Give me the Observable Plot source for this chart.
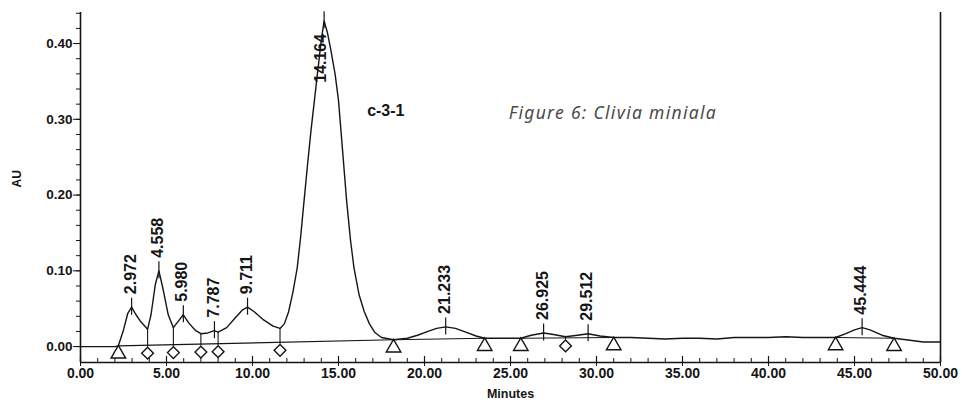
<!DOCTYPE html>
<html><head><meta charset="utf-8">
<script src="https://cdn.jsdelivr.net/npm/d3@7"></script>
<script src="https://cdn.jsdelivr.net/npm/@observablehq/plot@0.6"></script>
<style>
html,body{margin:0;padding:0;background:#fff;}
#chart{width:962px;height:404px;}
</style></head><body><div id="chart"></div>
<script>
// Chromatogram trace (minutes, AU)
const traceTime = [0,1,2,2.2,2.5,2.75,2.972,3.2,3.5,3.9,4.1,4.35,4.558,4.8,5.1,5.4,5.7,5.98,6.3,6.7,7.0,7.4,7.787,8.0,8.5,9.0,9.4,9.711,10.1,10.6,11.2,11.6,11.85,12.1,12.35,12.6,12.8,13.0,13.2,13.4,13.6,13.8,14.0,14.164,14.35,14.55,14.8,15.0,15.25,15.47,15.7,15.9,16.2,16.5,16.8,17.1,17.5,18.2,19.0,19.6,20.2,20.7,21.233,21.8,22.4,23.0,23.5,24.5,25.6,26.2,26.925,27.5,28.2,28.9,29.512,30.2,31.0,32,33,34,35,36,37,38,39,40,41,42,43,43.9,44.5,45.0,45.444,45.9,46.6,47.3,48,49,50];
const traceAU = [0.000,0.000,0.000,0.001,0.022,0.044,0.052,0.043,0.033,0.023,0.042,0.082,0.100,0.076,0.042,0.025,0.034,0.042,0.031,0.021,0.017,0.018,0.021,0.019,0.025,0.038,0.048,0.052,0.046,0.036,0.027,0.024,0.030,0.046,0.072,0.104,0.145,0.193,0.240,0.285,0.325,0.365,0.405,0.430,0.415,0.392,0.360,0.325,0.255,0.193,0.140,0.104,0.068,0.046,0.030,0.019,0.012,0.009,0.011,0.015,0.020,0.024,0.026,0.024,0.019,0.014,0.011,0.011,0.011,0.015,0.018,0.016,0.013,0.015,0.017,0.014,0.012,0.012,0.011,0.010,0.011,0.011,0.010,0.012,0.012,0.012,0.013,0.012,0.012,0.012,0.017,0.022,0.025,0.022,0.015,0.011,0.009,0.006,0.006];

// Peak retention times and labels
const peakTimes = [2.972,4.558,5.980,7.787,9.711,14.164,21.233,26.925,29.512,45.444];
const peakLabels = ["2.972","4.558","5.980","7.787","9.711","14.164","21.233","26.925","29.512","45.444"];

// Integration events
const baselineStarts = [2.2,18.2,25.6,43.9];
const baselineEnds = [18.2,23.5,31.0,47.3];
const triangleTimes = [2.2,18.2,23.5,25.6,31.0,43.9,47.3];
const diamondTimes = [3.9,5.4,7.0,8.0,11.6,28.2];

// Axes
const xTicks = [0,5,10,15,20,25,30,35,40,45,50];
const xTickLabels = ["0.00","5.00","10.00","15.00","20.00","25.00","30.00","35.00","40.00","45.00","50.00"];
const xMinor = d3.range(0,51,1);
const yTicks = [0,0.1,0.2,0.3,0.4];
const yTickLabels = ["0.00","0.10","0.20","0.30","0.40"];
const yMinor = [0,0.02,0.04,0.06,0.08,0.1,0.12,0.14,0.16,0.18,0.2,0.22,0.24,0.26,0.28,0.3,0.32,0.34,0.36,0.38,0.4,0.42,0.44];
const xLabel = "Minutes";
const yLabel = "AU";
const sampleName = "c-3-1";
const figureTitle = "Figure 6: Clivia miniala";

const W = 962, H = 404, mL = 80, mR = 22, mT = 12, mB = 42;
const yDom = [-0.021, 0.441];
const pxPerAU = (H - mT - mB) / (yDom[1] - yDom[0]);

function auAt(t) {
  const i = d3.bisectLeft(traceTime, t);
  if (i <= 0) return traceAU[0];
  if (i >= traceTime.length) return traceAU[traceAU.length - 1];
  const t0 = traceTime[i-1], t1 = traceTime[i];
  if (t1 === t) return traceAU[i];
  return traceAU[i-1] + (traceAU[i] - traceAU[i-1]) * (t - t0) / (t1 - t0);
}
function baseAt(t) {
  for (let k = 0; k < baselineStarts.length; k++) {
    const s = baselineStarts[k], e = baselineEnds[k];
    if (t >= s - 1e-9 && t <= e + 1e-9) {
      const vs = auAt(s), ve = auAt(e);
      return vs + (ve - vs) * (t - s) / (e - s);
    }
  }
  return auAt(t);
}

const ink = "#151515";
const traceIdx = d3.range(traceTime.length);
const peakIdx = d3.range(peakTimes.length);
const outsidePeaks = peakIdx.filter(i => auAt(peakTimes[i]) < 0.3);
const insidePeaks = peakIdx.filter(i => auAt(peakTimes[i]) >= 0.3);

const chart = Plot.plot({
  width: W, height: H,
  marginLeft: mL, marginRight: mR, marginTop: mT, marginBottom: mB,
  x: {domain: [0, 50], label: null},
  y: {domain: yDom, label: null},
  style: {fontFamily: "'Liberation Sans', Arial, sans-serif", fontSize: "14px", fontWeight: "bold", color: ink, background: "#fff"},
  marks: [
    // frame lines
    Plot.ruleY([yDom[0]], {stroke: ink, strokeWidth: 1.6}),
    Plot.ruleX([0], {stroke: ink, strokeWidth: 1.6}),
    Plot.ruleX([50], {stroke: ink, strokeWidth: 1.6}),
    // axes
    Plot.axisY(yTicks, {anchor: "left", tickSize: 7, tickPadding: 1, tickFormat: d => yTickLabels[yTicks.indexOf(d)], fontSize: 13.5, stroke: ink, fill: ink}),
    Plot.axisY(yMinor, {anchor: "left", tickSize: 4, tickFormat: () => "", stroke: ink}),
    Plot.axisX(xTicks, {anchor: "bottom", tickSize: 4, tickPadding: 2, tickFormat: d => xTickLabels[xTicks.indexOf(d)], fontSize: 14, stroke: ink, fill: ink}),
    Plot.ruleX(xMinor, {x: d => d, y1: yDom[0], y2: yDom[0] + 4 / pxPerAU, stroke: ink, strokeWidth: 1}),
    Plot.ruleX(xTicks, {x: d => d, y1: yDom[0], y2: yDom[0] + 6 / pxPerAU, stroke: ink, strokeWidth: 1.2}),
    // integration baselines
    Plot.link(d3.range(baselineStarts.length), {
      x1: i => baselineStarts[i], y1: i => auAt(baselineStarts[i]),
      x2: i => baselineEnds[i], y2: i => auAt(baselineEnds[i]),
      stroke: ink, strokeWidth: 1.2
    }),
    // drop lines
    Plot.ruleX(diamondTimes, {x: t => t, y1: t => auAt(t), y2: t => baseAt(t) - 2 / pxPerAU, stroke: ink, strokeWidth: 1.1}),
    // trace
    Plot.line(traceIdx, {x: i => traceTime[i], y: i => traceAU[i], stroke: ink, strokeWidth: 1.4}),
    // markers
    Plot.dot(triangleTimes, {x: t => t, y: t => baseAt(t), symbol: "triangle", r: 5.4, dy: 8, stroke: ink, strokeWidth: 1.4, fill: "#fff"}),
    Plot.dot(diamondTimes, {x: t => t, y: t => baseAt(t), symbol: "diamond2", r: 5.3, dy: 8, stroke: ink, strokeWidth: 1.4, fill: "#fff"}),
    // peak ticks
    Plot.ruleX(peakTimes, {x: t => t, y1: t => auAt(t) - 8 / pxPerAU, y2: t => auAt(t) + 9 / pxPerAU, stroke: ink, strokeWidth: 1.2}),
    // peak labels
    Plot.text(outsidePeaks, {x: i => peakTimes[i], y: i => auAt(peakTimes[i]), text: i => peakLabels[i], rotate: -90, textAnchor: "start", dy: -13, dx: -1, fontSize: 16, fill: ink}),
    Plot.text(insidePeaks, {x: i => peakTimes[i], y: i => auAt(peakTimes[i]), text: i => peakLabels[i], rotate: -90, textAnchor: "end", dy: 13, dx: -3, fontSize: 16, fill: ink}),
    // axis titles
    Plot.text([yLabel], {frameAnchor: "left", y: 0.21, text: d => d, rotate: -90, dx: -63, fontSize: 12, fill: ink}),
    Plot.text([xLabel], {frameAnchor: "bottom", x: 25, text: d => d, dy: 35, fontSize: 12.5, fill: ink}),
    // annotations
    Plot.text([sampleName], {x: 17.75, y: 0.311, text: d => d, fontSize: 16, fill: ink}),
    Plot.text([figureTitle], {x: 24.9, y: 0.308, text: d => d, textAnchor: "start", fontSize: 17.5, fontStyle: "italic", fontWeight: "normal", fontFamily: "'Noto Sans', sans-serif", fill: "#4a4a4a", className: "figtitle"})
  ]
});
d3.select(chart).selectAll(".figtitle text").style("letter-spacing", "1.3px");
document.getElementById("chart").appendChild(chart);
</script>
</body></html>
